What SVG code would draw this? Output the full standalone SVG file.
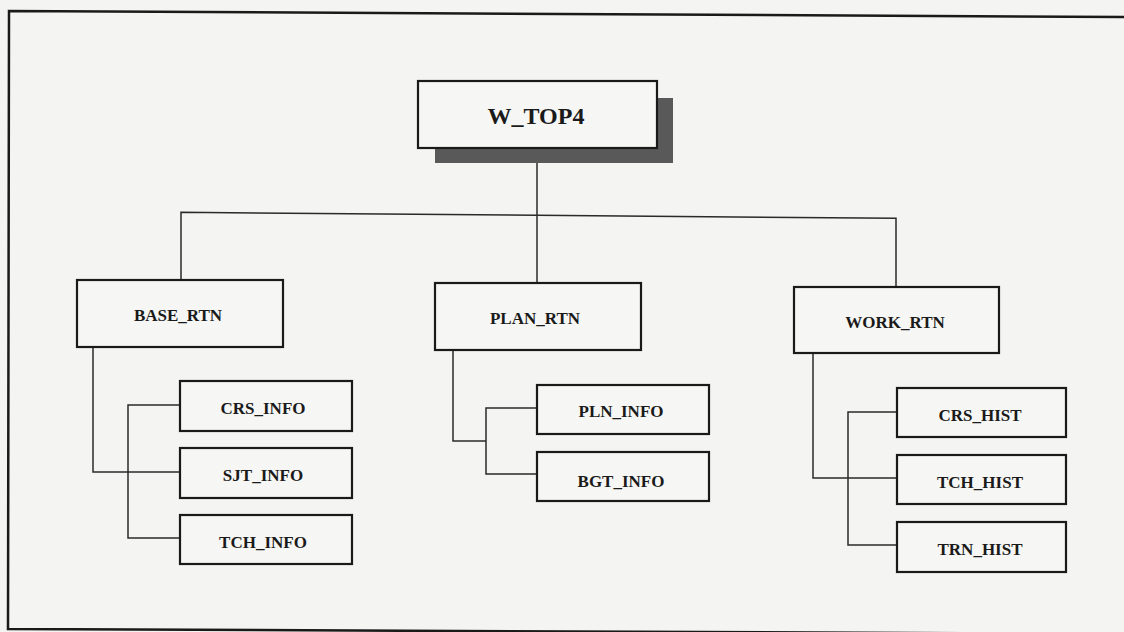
<svg xmlns="http://www.w3.org/2000/svg" width="1124" height="632" viewBox="0 0 1124 632">
<style>
.box{fill:#f6f6f4;stroke:#1a1a1a;stroke-width:2.2}
.shadow{fill:#595959;stroke:none}
.lbl{font-family:"Liberation Serif","Times New Roman",serif;font-weight:bold;font-size:17px;fill:#1a1a1a;text-anchor:middle}
.top{font-size:24px}
.conn{fill:none;stroke:#2a2a2a;stroke-width:1.5}
.frame{fill:none;stroke:#1a1a1a;stroke-width:2.5}
</style>
<rect x="0" y="0" width="1124" height="632" fill="#f4f4f2"/>
<path class="frame" d="M1130,17 L9,11 L8,629 L1130,634"/>
<g id="connectors">
<path class="conn" d="M537,148 V215"/>
<path class="conn" d="M181,280 V212.3 L896,218.3 V287"/>
<path class="conn" d="M537,215 V283"/>
<path class="conn" d="M93,347 V472 H180"/>
<path class="conn" d="M180,405 H128 V538 H180"/>
<path class="conn" d="M453,350 V441 H486"/>
<path class="conn" d="M537,408 H486 V474 H537"/>
<path class="conn" d="M813,353 V478 H897"/>
<path class="conn" d="M897,412 H848 V545 H897"/>
</g>
<g id="W_TOP4">
<rect class="shadow" x="435" y="98" width="238" height="65"/>
<rect class="box" x="418" y="81" width="239" height="67"/>
<text class="lbl top" x="536" y="124">W_TOP4</text>
</g>
<g id="BASE_RTN">
<rect class="box" x="77" y="280" width="206" height="67"/>
<text class="lbl" x="178" y="321">BASE_RTN</text>
</g>
<g id="CRS_INFO">
<rect class="box" x="180" y="381" width="172" height="50"/>
<text class="lbl" x="263" y="414">CRS_INFO</text>
</g>
<g id="SJT_INFO">
<rect class="box" x="180" y="448" width="172" height="50"/>
<text class="lbl" x="263" y="481">SJT_INFO</text>
</g>
<g id="TCH_INFO">
<rect class="box" x="180" y="515" width="172" height="49"/>
<text class="lbl" x="263" y="548">TCH_INFO</text>
</g>
<g id="PLAN_RTN">
<rect class="box" x="435" y="283" width="206" height="67"/>
<text class="lbl" x="535" y="324">PLAN_RTN</text>
</g>
<g id="PLN_INFO">
<rect class="box" x="537" y="385" width="172" height="49"/>
<text class="lbl" x="621" y="417">PLN_INFO</text>
</g>
<g id="BGT_INFO">
<rect class="box" x="537" y="452" width="172" height="49"/>
<text class="lbl" x="621" y="487">BGT_INFO</text>
</g>
<g id="WORK_RTN">
<rect class="box" x="794" y="287" width="205" height="66"/>
<text class="lbl" x="895" y="328">WORK_RTN</text>
</g>
<g id="CRS_HIST">
<rect class="box" x="897" y="388" width="169" height="49"/>
<text class="lbl" x="980" y="421">CRS_HIST</text>
</g>
<g id="TCH_HIST">
<rect class="box" x="897" y="455" width="169" height="49"/>
<text class="lbl" x="980" y="488">TCH_HIST</text>
</g>
<g id="TRN_HIST">
<rect class="box" x="897" y="522" width="169" height="50"/>
<text class="lbl" x="980" y="555">TRN_HIST</text>
</g>
</svg>
